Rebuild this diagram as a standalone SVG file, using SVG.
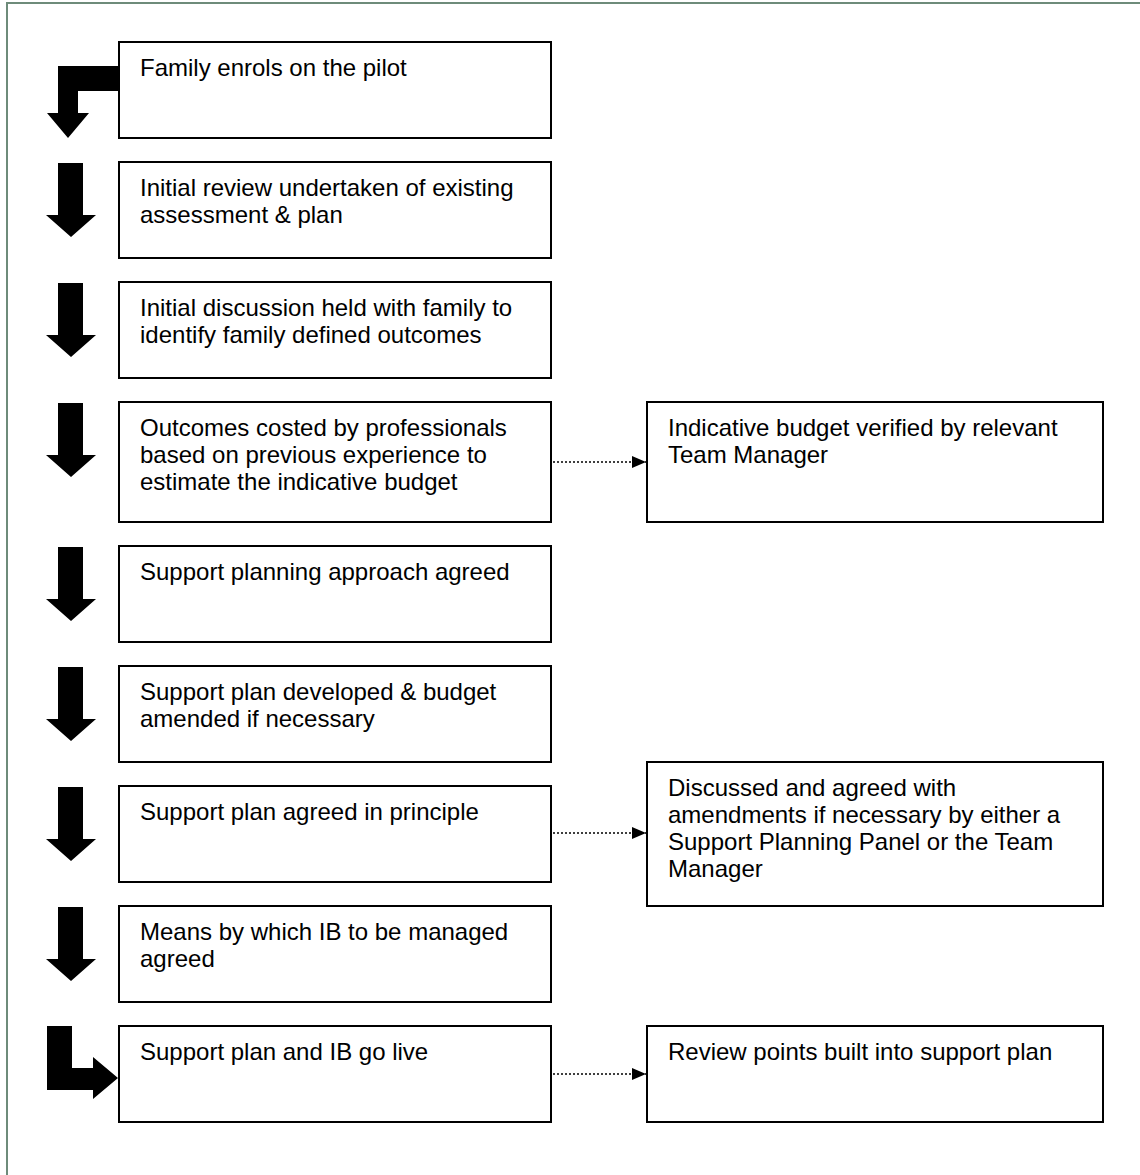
<svg xmlns="http://www.w3.org/2000/svg" width="1140" height="1175" viewBox="0 0 1140 1175">
<defs>
<style>
.box{fill:#fff;stroke:#000;stroke-width:2}
.t{font-family:"Liberation Sans",Arial,sans-serif;font-size:24px;fill:#000}
.arr{fill:#000}
.dot{stroke:#000;stroke-width:1.3;stroke-dasharray:2,2;fill:none}
</style>
<marker id="ah" markerWidth="14" markerHeight="12" refX="14" refY="6" orient="auto" markerUnits="userSpaceOnUse">
<path d="M0,0 L14,6 L0,12 Z" fill="#000"/>
</marker>
<path id="down" d="M58,0 H83 V52 H96 L71,74 L46,52 H58 Z"/>
</defs>
<rect x="0" y="0" width="1140" height="1175" fill="#fff"/>
<rect x="7" y="3" width="1145" height="1185" fill="none" stroke="#6e8b7a" stroke-width="2"/>

<g id="arrows-flow" class="arr">
<polygon points="118,66 58,66 58,113 47,113 68,138 89,113 78,113 78,91 118,91"/>
<use href="#down" y="163"/>
<use href="#down" y="283"/>
<use href="#down" y="403"/>
<use href="#down" y="547"/>
<use href="#down" y="667"/>
<use href="#down" y="787"/>
<use href="#down" y="907"/>
<polygon points="47,1026 72,1026 72,1068 93,1068 93,1057 118,1078 93,1099 93,1090 47,1090"/>
</g>

<g id="n1"><rect class="box" x="119" y="42" width="432" height="96"/><text class="t" x="140" y="76">Family enrols on the pilot</text></g>
<g id="n2"><rect class="box" x="119" y="162" width="432" height="96"/><text class="t" x="140" y="196">Initial review undertaken of existing</text><text class="t" x="140" y="223">assessment &amp; plan</text></g>
<g id="n3"><rect class="box" x="119" y="282" width="432" height="96"/><text class="t" x="140" y="316">Initial discussion held with family to</text><text class="t" x="140" y="343">identify family defined outcomes</text></g>
<g id="n4"><rect class="box" x="119" y="402" width="432" height="120"/><text class="t" x="140" y="436">Outcomes costed by professionals</text><text class="t" x="140" y="463">based on previous experience to</text><text class="t" x="140" y="490">estimate the indicative budget</text></g>
<g id="n5"><rect class="box" x="119" y="546" width="432" height="96"/><text class="t" x="140" y="580">Support planning approach agreed</text></g>
<g id="n6"><rect class="box" x="119" y="666" width="432" height="96"/><text class="t" x="140" y="700">Support plan developed &amp; budget</text><text class="t" x="140" y="727">amended if necessary</text></g>
<g id="n7"><rect class="box" x="119" y="786" width="432" height="96"/><text class="t" x="140" y="820">Support plan agreed in principle</text></g>
<g id="n8"><rect class="box" x="119" y="906" width="432" height="96"/><text class="t" x="140" y="940">Means by which IB to be managed</text><text class="t" x="140" y="967">agreed</text></g>
<g id="n9"><rect class="box" x="119" y="1026" width="432" height="96"/><text class="t" x="140" y="1060">Support plan and IB go live</text></g>

<g id="r1"><rect class="box" x="647" y="402" width="456" height="120"/><text class="t" x="668" y="436">Indicative budget verified by relevant</text><text class="t" x="668" y="463">Team Manager</text></g>
<g id="r2"><rect class="box" x="647" y="762" width="456" height="144"/><text class="t" x="668" y="796">Discussed and agreed with</text><text class="t" x="668" y="823">amendments if necessary by either a</text><text class="t" x="668" y="850">Support Planning Panel or the Team</text><text class="t" x="668" y="877">Manager</text></g>
<g id="r3"><rect class="box" x="647" y="1026" width="456" height="96"/><text class="t" x="668" y="1060">Review points built into support plan</text></g>

<g id="connectors">
<line class="dot" x1="553" y1="462" x2="646" y2="462" marker-end="url(#ah)"/>
<line class="dot" x1="553" y1="833" x2="646" y2="833" marker-end="url(#ah)"/>
<line class="dot" x1="553" y1="1074" x2="646" y2="1074" marker-end="url(#ah)"/>
</g>
</svg>
